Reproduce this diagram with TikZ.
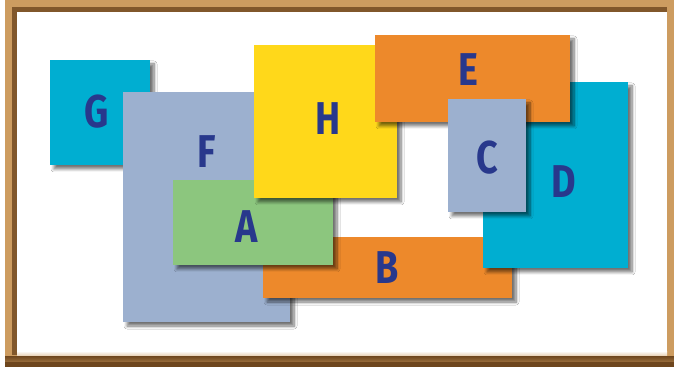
\documentclass[tikz,border=0pt]{standalone}
\usepackage{fontspec}
\setmainfont{Fira Sans}
\usetikzlibrary{shadows,shadows.blur}
\definecolor{cyanbox}{RGB}{0,174,209}
\definecolor{slatebox}{RGB}{156,176,207}
\definecolor{greenbox}{RGB}{140,198,126}
\definecolor{yellowbox}{RGB}{255,216,26}
\definecolor{orangebox}{RGB}{237,137,43}
\definecolor{navytext}{RGB}{40,56,140}
\definecolor{frametan}{RGB}{205,156,96}
\definecolor{framedark}{RGB}{110,70,30}
\tikzset{
  box/.style={fill=#1, draw=none, blur shadow={shadow xshift=4pt, shadow yshift=-4pt, shadow blur steps=8, shadow blur radius=3pt, shadow opacity=55}},
  lbl/.style={text=navytext, font=\fontsize{46}{46}\selectfont\bfseries, inner sep=0pt, xscale=0.82, transform shape, anchor=center}
}
\begin{document}
\begin{tikzpicture}[x=1pt,y=1pt]
\useasboundingbox (0,0) rectangle (674,367);
% frame
\fill[white] (0,0) rectangle (674,367);
\fill[frametan] (5,0) rectangle (674,367);
\fill[framedark] (5,0) rectangle (674,6);
\shade[top color=framedark, bottom color=framedark!60!frametan] (5,6) rectangle (674,11);
\fill[framedark!80!frametan] (12,12) rectangle (17,355);
\fill[framedark!80!frametan] (12,355) rectangle (667,360);
\fill[white] (17,12) rectangle (667,355);
\shade[top color=white, bottom color=frametan!40] (17,12) rectangle (667,16);
% boxes (bottom to top)
\path[box=cyanbox] (50,202) rectangle (150,307);
\node[lbl] (g) at (97,255) {G};
\path[box=slatebox] (123,45) rectangle (290,275);
\node[lbl] (f) at (207,215) {F};
\path[box=orangebox] (263,69) rectangle (512,130);
\node[lbl] (b) at (387,99) {B};
\path[box=greenbox] (173,102) rectangle (333,187);
\node[lbl] (a) at (247,140) {A};
\path[box=yellowbox] (254,169) rectangle (397,322);
\node[lbl] (h) at (328,248) {H};
\path[box=cyanbox] (483,99) rectangle (628,285);
\node[lbl] (d) at (564,185) {D};
\path[box=orangebox] (375,245) rectangle (570,332);
\node[lbl] (e) at (468,297) {E};
\path[box=slatebox] (448,155) rectangle (526,268);
\node[lbl] (c) at (487,209) {C};
\end{tikzpicture}
\end{document}
